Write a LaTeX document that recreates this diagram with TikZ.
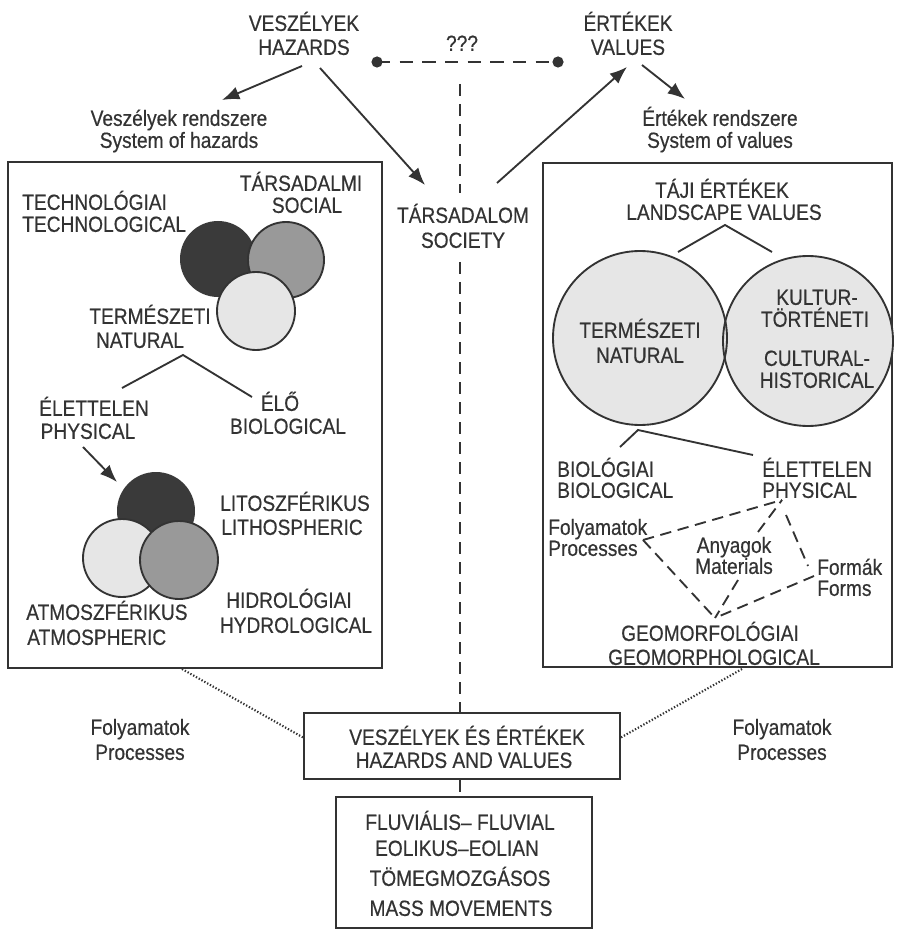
\documentclass[tikz,border=0pt]{standalone}
\usepackage{fontspec}
\setmainfont{Liberation Sans}[FakeStretch=0.87,FakeBold=0.5]
\usetikzlibrary{arrows.meta}
\definecolor{ink}{HTML}{333333}
\definecolor{dk}{HTML}{3A3A3A}
\definecolor{md}{HTML}{999999}
\definecolor{lt}{HTML}{E6E6E6}
\begin{document}
\begin{tikzpicture}[x=0.75pt,y=-0.75pt,
 t/.style={inner sep=0pt,text height=11.8pt,text depth=0pt,font=\fontsize{16.5}{19}\selectfont,text=ink},
 tl/.style={t,anchor=west},
 ln/.style={draw=ink,line width=1.4pt},
 arr/.style={ln,-{Latex[length=13pt,width=10pt]}},
 vdash/.style={ln,line width=1.4pt,dash pattern=on 9pt off 6pt},
 qdash/.style={ln,line width=1.4pt,dash pattern=on 8.5pt off 5pt},
 dotl/.style={draw=ink,line width=1.6pt,dash pattern=on 1pt off 1.4pt},
 box/.style={draw=ink,line width=1.6pt,rectangle,inner sep=0pt}]
\useasboundingbox (0,0) rectangle (900,930);

% ---------- top ----------
\node[t] (vesz1) at (304,23) {VESZÉLYEK};
\node[t] (vesz2) at (304,47) {HAZARDS};
\node[t] (qqq) at (462,43) {???};
\node[t] (ert1) at (628,23) {ÉRTÉKEK};
\node[t] (ert2) at (628,47) {VALUES};
\coordinate (dl) at (377,62);
\coordinate (dr) at (558,62);
\draw[ln,line width=1.4pt,dash pattern=on 10pt off 7pt] (dl) -- (dr);
\fill[ink] (dl) circle (4.2pt);
\fill[ink] (dr) circle (4.2pt);

\node[t] (sysh1) at (179,118) {Veszélyek rendszere};
\node[t] (sysh2) at (179,140) {System of hazards};
\node[t] (sysv1) at (720,118) {Értékek rendszere};
\node[t] (sysv2) at (720,140) {System of values};

\coordinate (a1s) at (302,66); \coordinate (a1e) at (222,100);
\coordinate (a2s) at (320,68); \coordinate (a2e) at (425,185);
\coordinate (a3s) at (497,183); \coordinate (a3e) at (627,67);
\coordinate (a4s) at (642,65); \coordinate (a4e) at (685,99);
\draw[arr] (a1s) -- (a1e);
\draw[arr] (a2s) -- (a2e);
\draw[arr] (a3s) -- (a3e);
\draw[arr] (a4s) -- (a4e);

% society and central dashed axis
\node[t] (soc1) at (463,215) {TÁRSADALOM};
\node[t] (soc2) at (463,240) {SOCIETY};
\coordinate (v0) at (460,84);
\coordinate (v1) at (460,193);
\coordinate (v2) at (460,262);

% ---------- left box ----------
\node[box,minimum width=280.5pt,minimum height=379.5pt] (lbox) at (195,415) {};
\node[tl] (tech1) at (22,202) {TECHNOLÓGIAI};
\node[tl] (tech2) at (22,224) {TECHNOLOGICAL};
\node[t] (tars1) at (301,183) {TÁRSADALMI};
\node[t] (tars2) at (307,205) {SOCIAL};
\fill[dk] (218,259) circle (38);
\draw[ln,fill=md] (286,260) circle (38);
\draw[ln,fill=lt] (256,311) circle (39);
\node[t] (term1) at (150,316) {TERMÉSZETI};
\node[t] (term2) at (140,340) {NATURAL};
\coordinate (n0) at (183,355);
\coordinate (n1) at (122,388);
\coordinate (n2) at (252,397);
\draw[ln] (n1) -- (n0) -- (n2);
\node[t] (elet1) at (94,408) {ÉLETTELEN};
\node[t] (elet2) at (88,431) {PHYSICAL};
\node[t] (elo1) at (280,403) {ÉLŐ};
\node[t] (elo2) at (288,426) {BIOLOGICAL};
\coordinate (ps) at (83,447); \coordinate (pe) at (117,482);
\draw[arr] (ps) -- (pe);
\fill[dk] (156,511) circle (39);
\draw[ln,fill=lt] (122,558) circle (39);
\draw[ln,fill=md] (179,560) circle (39);
\node[t] (lito1) at (295,503) {LITOSZFÉRIKUS};
\node[t] (lito2) at (292,527) {LITHOSPHERIC};
\node[t] (hidr1) at (289,600) {HIDROLÓGIAI};
\node[t] (hidr2) at (296,625) {HYDROLOGICAL};
\node[tl] (atmo1) at (26,612) {ATMOSZFÉRIKUS};
\node[tl] (atmo2) at (27,637) {ATMOSPHERIC};

% ---------- right box ----------
\node[box,minimum width=261.75pt,minimum height=378pt] (rbox) at (717.5,415) {};
\node[t] (taji1) at (722,190) {TÁJI ÉRTÉKEK};
\node[t] (taji2) at (724,212) {LANDSCAPE VALUES};
\coordinate (r0) at (725,225);
\coordinate (r1) at (678,252);
\coordinate (r2) at (772,252);
\draw[ln] (r1) -- (r0) -- (r2);
\fill[lt] (640,338) circle (87);
\fill[lt] (808,341) circle (85);
\draw[ln] (640,338) circle (87);
\draw[ln] (808,341) circle (85);
\node[t] (termR1) at (640,330) {TERMÉSZETI};
\node[t] (termR2) at (640,355) {NATURAL};
\node[t] (kult1) at (817,297) {KULTUR-};
\node[t] (kult2) at (815,319) {TÖRTÉNETI};
\node[t] (kult3) at (817,358) {CULTURAL-};
\node[t] (kult4) at (817,380) {HISTORICAL};
\coordinate (s0) at (638,430);
\coordinate (s1) at (620,447);
\coordinate (s2) at (753,455);
\draw[ln] (s1) -- (s0) -- (s2);
\node[tl] (bio1) at (557,469) {BIOLÓGIAI};
\node[tl] (bio2) at (557,490) {BIOLOGICAL};
\node[tl] (eletR1) at (762,469) {ÉLETTELEN};
\node[tl] (eletR2) at (762,490) {PHYSICAL};
\node[tl] (foly1) at (548,527) {Folyamatok};
\node[tl] (foly2) at (548,548) {Processes};
\node[t] (any1) at (734,545) {Anyagok};
\node[t] (any2) at (734,566) {Materials};
\node[tl] (form1) at (817,567) {Formák};
\node[tl] (form2) at (817,588) {Forms};
\node[t] (geo1) at (710,633) {GEOMORFOLÓGIAI};
\node[t] (geo2) at (714,657) {GEOMORPHOLOGICAL};
\coordinate (P) at (643,540);
\coordinate (T) at (782,500);
\coordinate (T2) at (786,515);
\coordinate (B) at (715,618);
\coordinate (F1) at (808,566);
\coordinate (F2) at (814,576);
\coordinate (A1) at (758,532);
\coordinate (A2) at (738,580);
\draw[qdash] (P) -- (T);
\draw[qdash] (A1) -- (T);
\draw[qdash] (T2) -- (F1);
\draw[qdash] (P) -- (B);
\draw[qdash] (A2) -- (B);
\draw[qdash] (F2) -- (B);

% ---------- bottom ----------
\node[box,minimum width=237pt,minimum height=49.5pt] (hvbox) at (462,746) {};
\node[t] (hv1) at (467,737) {VESZÉLYEK ÉS ÉRTÉKEK};
\node[t] (hv2) at (464,760) {HAZARDS AND VALUES};
\node[box,minimum width=192pt,minimum height=98.25pt] (flbox) at (464,862.5) {};
\node[t] (fl1) at (460,822) {FLUVIÁLIS– FLUVIAL};
\node[t] (fl2) at (457,848) {EOLIKUS–EOLIAN};
\node[t] (fl3) at (460,878) {TÖMEGMOZGÁSOS};
\node[t] (fl4) at (461,908) {MASS MOVEMENTS};

\node[t] (folL1) at (140,727) {Folyamatok};
\node[t] (folL2) at (140,752) {Processes};
\node[t] (folR1) at (782,727) {Folyamatok};
\node[t] (folR2) at (782,752) {Processes};

\coordinate (dL0) at (182,669); \coordinate (dL1) at (304,738);
\coordinate (dR0) at (742,669); \coordinate (dR1) at (620,738);
\draw[dotl] (dL0) -- (dL1);
\draw[dotl] (dR0) -- (dR1);

\draw[vdash] (v0) -- (v1);
\draw[vdash] (v2) -- (hvbox.north -| v2);
\draw[vdash] (hvbox.south -| v2) -- (flbox.north -| v2);
\end{tikzpicture}
\end{document}
